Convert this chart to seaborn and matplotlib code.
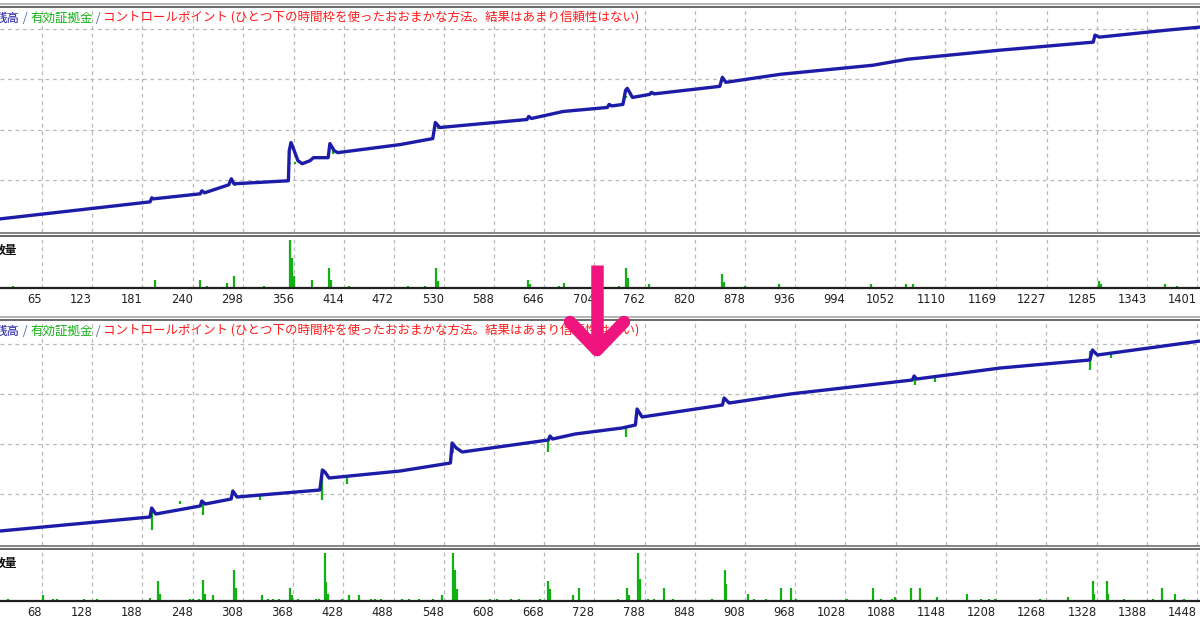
import numpy as np
import matplotlib

matplotlib.use("Agg")
import matplotlib.pyplot as plt
from matplotlib.lines import Line2D
import seaborn as sns

W, H = 1200, 628
BLUE, GREEN, RED, PINK = "#1c1ca8", "#12b012", "#ff1a1a", "#f0147f"
GRID = "#b8b8b8"

sns.set_theme(style="white")
plt.rcParams["font.family"] = ["Noto Sans CJK JP", "DejaVu Sans"]

# --- データ --------------------------------------------------------

# 上段: 変更前
top_ticks = [65, 123, 181, 240, 298, 356, 414, 472, 530, 588, 646, 704,
             762, 820, 878, 936, 994, 1052, 1110, 1169, 1227, 1285, 1343, 1401]
top_xlim = (16.4, 1404.5)
top_bal_idx = [16, 190, 192, 194, 248, 250, 253, 281, 284, 287, 350, 351, 353, 355,
               361, 366, 375, 379, 396, 398, 403, 407, 479, 517, 520, 525, 626, 628,
               631, 668, 719, 721, 724, 737, 740, 742, 748, 768, 770, 773, 849, 852,
               856, 919, 1026, 1066, 1173, 1281, 1283, 1288, 1367, 1405]
top_bal_val = [10220, 10560, 10640, 10620, 10720, 10780, 10740, 10900, 11020, 10920,
               10980, 11580, 11740, 11660, 11380, 11320, 11380, 11440, 11440, 11720,
               11580, 11540, 11700, 11820, 12140, 12040, 12200, 12260, 12220, 12360,
               12440, 12500, 12470, 12500, 12780, 12820, 12640, 12700, 12740, 12710,
               12860, 13040, 12940, 13100, 13280, 13400, 13580, 13740, 13880, 13840,
               13980, 14040]
top_dip_idx = [288, 352, 358, 402, 523, 741]
top_dip_hi = [10930, 11340, 11360, 11590, 12060, 12660]
top_dip_lo = [10880, 11320, 11320, 11520, 12020, 12620]
top_vol_idx = [31, 196, 248, 256, 279, 287, 322, 352, 354, 356, 377, 397, 399, 420,
               488, 508, 521, 523, 627, 629, 663, 669, 733, 741, 743, 767, 852, 854,
               878, 917, 1024, 1064, 1072, 1288, 1290, 1364, 1378]
top_vol = [0.2, 0.85, 0.85, 0.2, 0.5, 1.2, 0.2, 5.0, 3.1, 1.2, 0.85, 2.1, 0.8, 0.2,
           0.2, 0.2, 2.1, 0.7, 0.85, 0.4, 0.2, 0.55, 0.2, 2.1, 1.0, 0.4, 1.5, 0.6,
           0.2, 0.4, 0.4, 0.4, 0.4, 0.75, 0.4, 0.4, 0.2]

# 下段: 変更後
bot_ticks = [68, 128, 188, 248, 308, 368, 428, 488, 548, 608, 668, 728,
             788, 848, 908, 968, 1028, 1088, 1148, 1208, 1268, 1328, 1388, 1448]
bot_xlim = (17.8, 1451.6)
bot_bal_idx = [18, 197, 199, 204, 257, 259, 263, 294, 296, 301, 400, 403, 406, 411,
               496, 556, 558, 563, 570, 673, 675, 678, 705, 761, 777, 779, 785, 881,
               883, 889, 962, 1108, 1110, 1113, 1213, 1320, 1323, 1329, 1452]
bot_bal_val = [10260, 10540, 10720, 10600, 10760, 10860, 10800, 10900, 11060, 10940,
               11080, 11480, 11440, 11320, 11460, 11620, 12020, 11920, 11840, 12080,
               12160, 12100, 12200, 12320, 12380, 12700, 12540, 12780, 12920, 12820,
               13000, 13280, 13360, 13300, 13520, 13680, 13880, 13780, 14060]
bot_dip_idx = [200, 233, 260, 329, 403, 432, 559, 673, 766, 1111, 1135, 1320, 1345]
bot_dip_hi = [10700, 10860, 10840, 10960, 11440, 11340, 11980, 12080, 12330, 13340,
              13330, 13860, 13800]
bot_dip_lo = [10280, 10800, 10580, 10880, 10880, 11200, 11820, 11840, 12140, 13180,
              13240, 13480, 13720]
bot_vol_idx = [27, 69, 81, 86, 118, 134, 197, 207, 209, 245, 248, 256, 260, 263, 272,
               297, 300, 331, 338, 344, 351, 364, 367, 374, 395, 399, 406, 407, 410,
               427, 435, 447, 461, 466, 473, 498, 507, 519, 535, 546, 559, 562, 564,
               603, 612, 628, 638, 663, 673, 675, 703, 710, 756, 767, 769, 780, 783,
               792, 799, 811, 822, 869, 884, 885, 912, 919, 933, 951, 963, 969, 1030,
               1061, 1070, 1084, 1087, 1106, 1117, 1137, 1173, 1190, 1200, 1207, 1261,
               1294, 1324, 1325, 1341, 1342, 1361, 1396, 1406, 1422, 1433]
bot_vol = [0.2, 0.65, 0.2, 0.2, 0.2, 0.2, 0.3, 2.1, 0.75, 0.2, 0.2, 0.2, 2.15, 0.75,
           0.65, 3.25, 1.35, 0.65, 0.2, 0.2, 0.2, 1.35, 0.6, 0.2, 0.2, 0.2, 5.0, 2.0,
           0.75, 0.2, 0.65, 0.65, 0.2, 0.2, 0.2, 0.2, 0.2, 0.2, 0.2, 0.65, 5.0, 3.25,
           1.25, 0.2, 0.2, 0.2, 0.2, 0.2, 2.1, 1.25, 0.65, 1.35, 0.2, 1.35, 0.6, 5.0,
           2.25, 0.2, 0.2, 1.35, 0.2, 0.2, 3.25, 1.75, 0.75, 0.2, 0.2, 1.35, 1.35, 0.2,
           0.2, 1.35, 0.2, 0.2, 0.4, 1.35, 1.35, 0.4, 0.75, 0.2, 0.2, 0.2, 0.2, 0.4,
           2.1, 0.75, 2.1, 0.75, 0.2, 0.2, 1.35, 0.75, 0.2]

bal_grid = [11000, 12000, 13000, 14000]
top_ylim = (9960, 14420)
bot_ylim = (9980, 14460)
vol_ylim = (0, 5.4)

TITLE = [("残高", BLUE), (" / ", "#4a6fa0"), ("有効証拠金", GREEN), (" / ", "#4a6fa0"),
         ("コントロールポイント (ひとつ下の時間枠を使ったおおまかな方法。結果はあまり信頼性はない)", RED)]


def fx(px):
    return px / W


def fy(py):
    return 1 - py / H


def hline(fig, py, color, lw=1.0):
    fig.add_artist(Line2D([0, 1], [fy(py), fy(py)], color=color, lw=lw,
                          transform=fig.transFigure))


def panel(fig, off, ticks, xlim, ylim, bal_idx, bal_val, dip_idx, dip_hi, dip_lo,
          vol_idx, vol):
    # 本体 (残高/有効証拠金)
    ax = fig.add_axes([0, fy(off + 232), 1, 224 / H])
    ax.vlines(dip_idx, dip_lo, dip_hi, color=GREEN, lw=1.6, zorder=2)
    sns.lineplot(x=bal_idx, y=bal_val, ax=ax, color=BLUE, lw=2.4, zorder=3)
    ax.set_xlim(xlim)
    ax.set_ylim(ylim)
    ax.set_xticks(ticks)
    ax.set_yticks(bal_grid)
    ax.grid(True, color=GRID, ls=(0, (3, 3)), lw=0.9)
    ax.tick_params(length=0, labelbottom=False, labelleft=False)
    for s in ax.spines.values():
        s.set_visible(False)

    # 取引数量
    av = fig.add_axes([0, fy(off + 288), 1, 52 / H])
    av.vlines(vol_idx, 0, vol, color=GREEN, lw=1.6)
    av.set_xlim(xlim)
    av.set_ylim(vol_ylim)
    av.set_xticks(ticks)
    av.set_xticklabels([str(t) for t in ticks], ha="right", fontsize=8.3,
                       family="DejaVu Sans", color="#202020")
    av.set_yticks([])
    av.grid(True, axis="x", color=GRID, ls=(0, (3, 3)), lw=0.9)
    av.tick_params(axis="x", length=3, width=1.2, direction="inout", pad=2, color="#202020")
    for s in ["top", "left", "right"]:
        av.spines[s].set_visible(False)
    av.spines["bottom"].set_color("#202020")
    av.spines["bottom"].set_linewidth(1.6)
    av.text(-0.005, 0.72, "数量", transform=av.transAxes, fontsize=8.5,
            color="#101010", weight="bold", va="center", ha="left")

    # 枠線
    hline(fig, off + 3.5, "#a8a8a8", 1.2)
    hline(fig, off + 6.5, "#505050", 1.2)
    hline(fig, off + 232.5, "#707070", 1.2)
    hline(fig, off + 235.5, "#505050", 1.2)

    # 凡例テキスト
    prev = ax.text(-0.004, fy(off + 18), TITLE[0][0], transform=fig.transFigure,
                   color=TITLE[0][1], fontsize=9, va="center", ha="left")
    for txt, col in TITLE[1:]:
        prev = ax.annotate(txt, xy=(1, 0), xycoords=prev, va="bottom", ha="left",
                           color=col, fontsize=9, annotation_clip=False)
    return ax


fig = plt.figure(figsize=(W / 100, H / 100), dpi=100)
fig.patch.set_facecolor("white")

panel(fig, 0, top_ticks, top_xlim, top_ylim, top_bal_idx, top_bal_val,
      top_dip_idx, top_dip_hi, top_dip_lo, top_vol_idx, top_vol)
panel(fig, 313, bot_ticks, bot_xlim, bot_ylim, bot_bal_idx, bot_bal_val,
      bot_dip_idx, bot_dip_hi, bot_dip_lo, bot_vol_idx, bot_vol)

# 矢印
tip = (597, 350)
arrow = dict(color=PINK, lw=9, transform=fig.transFigure, zorder=10)
fig.add_artist(Line2D([fx(597), fx(597)], [fy(265), fy(344)], solid_capstyle="butt", **arrow))
fig.add_artist(Line2D([fx(570), fx(tip[0])], [fy(322), fy(tip[1])], solid_capstyle="round", **arrow))
fig.add_artist(Line2D([fx(624), fx(tip[0])], [fy(322), fy(tip[1])], solid_capstyle="round", **arrow))

fig.savefig("out.png", dpi=100)
